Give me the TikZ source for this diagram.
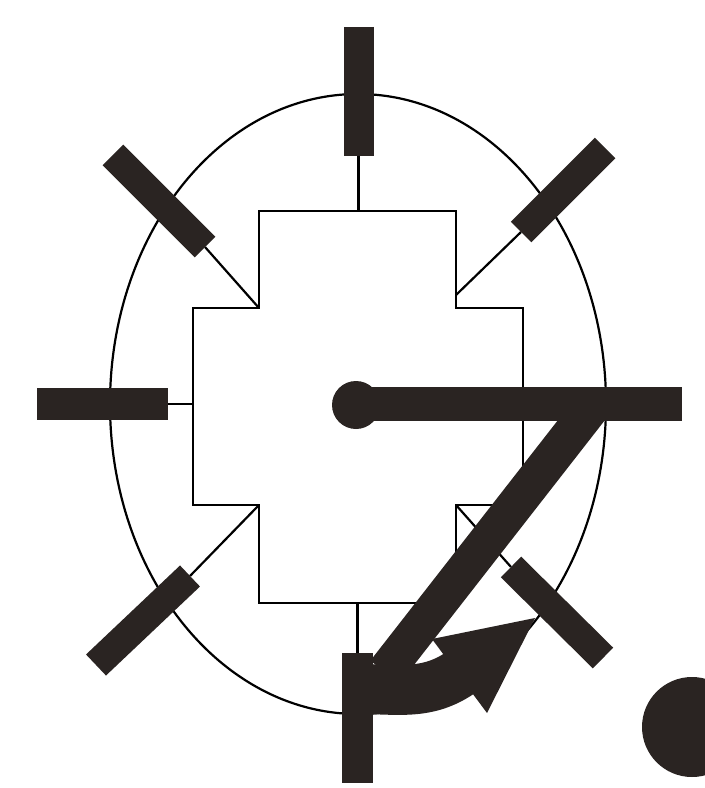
\documentclass[tikz,border=0pt]{standalone}
\definecolor{ink}{RGB}{42,36,34}
\begin{document}
\begin{tikzpicture}[x=0.1mm,y=-0.1mm,
  wire/.style={draw=black,line width=0.22mm},
  bar/.style={draw=ink,line width=3mm,line cap=butt},
  heavybar/.style={draw=ink,line width=3.5mm,line cap=butt},
  blob/.style={fill=ink}]
\useasboundingbox (0,0) rectangle (705,788);
\fill[white] (0,0) rectangle (705,788);
% named points
\coordinate (c) at (358,404);
\coordinate (topA) at (358.5,27);   \coordinate (topB) at (358.5,156);
\coordinate (leftA) at (37,404);    \coordinate (leftB) at (168,404);
\coordinate (ulA) at (113,155);     \coordinate (ulB) at (205,247);
\coordinate (urA) at (605,148);     \coordinate (urB) at (521,232);
\coordinate (llA) at (96,665);      \coordinate (llB) at (190,576);
\coordinate (lrA) at (603,658);     \coordinate (lrB) at (511,567);
\coordinate (botA) at (357.5,653);  \coordinate (botB) at (357.5,783);
% stepped block corners
\coordinate (s1) at (259,211); \coordinate (s2) at (456,211);
\coordinate (s3) at (456,308); \coordinate (s4) at (523,308);
\coordinate (s5) at (523,505); \coordinate (s6) at (456,505);
\coordinate (s7) at (456,603); \coordinate (s8) at (259,603);
\coordinate (s9) at (259,505); \coordinate (s10) at (193,505);
\coordinate (s11) at (193,308); \coordinate (s12) at (259,308);
% ellipse and stepped block
\draw[wire] (c) ellipse [x radius=248, y radius=310];
\draw[wire] (s1) -- (s2) -- (s3) -- (s4) -- (s5) -- (s6) -- (s7) -- (s8) -- (s9) -- (s10) -- (s11) -- (s12) -- cycle;
% thin connecting lines
\draw[wire] (topB) -- (358.5,211);
\draw[wire] (leftB) -- (193,404);
\draw[wire] (ulB) -- (s12);
\draw[wire] (urB) -- (456,295);
\draw[wire] (llB) -- (s9);
\draw[wire] (lrB) -- (s6);
\draw[wire] (357.5,603) -- (botA);
% outer bars
\draw[bar] (topA) -- (topB);
\draw[bar,line width=3.2mm] (leftA) -- (leftB);
\draw[bar,line width=2.9mm] (ulA) -- (ulB);
\draw[bar,line width=2.9mm] (urA) -- (urB);
\draw[bar,line width=2.9mm] (llA) -- (llB);
\draw[bar,line width=2.9mm] (lrA) -- (lrB);
\draw[bar,line width=3.1mm] (botA) -- (botB);
% hand: dot, horizontal and diagonal
\fill[ink] (356,405) circle [radius=24];
\draw[heavybar,line width=3.4mm] (356,403.5) -- (682,403.5);
\draw[heavybar,line width=3.7mm] (594,404) -- (385,672);
% curved arrow
\draw[ink,line width=5mm] (350,689) -- (358,689) to[out=0,in=214] (460,673);
\fill[ink] (432,639) -- (535,618) -- (487,713) -- cycle;
% dot at lower right
\fill[ink] (692,727) circle [radius=50];
\end{tikzpicture}
\end{document}
